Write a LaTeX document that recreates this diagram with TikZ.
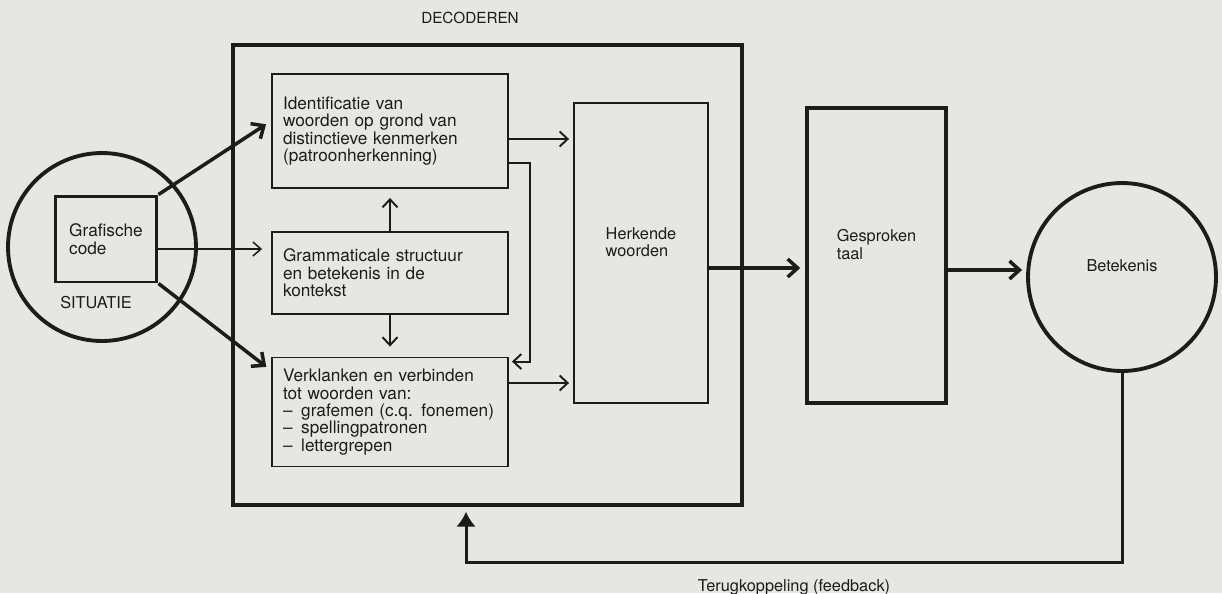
\documentclass[tikz,border=0pt]{standalone}
\usepackage{fontspec}
\setmainfont{TeX Gyre Heros}
\usepackage{tikz}
\usetikzlibrary{arrows.meta,positioning,shapes.geometric}
\definecolor{paper}{RGB}{230,230,228}
\definecolor{ink}{RGB}{28,28,28}
\newcommand{\leesBoxFont}{\fontsize{9.8}{9.9}\selectfont}
\newcommand{\leesLabelFont}{\fontsize{9.3}{9.9}\selectfont}
\tikzset{
  leesFrame/.style={draw=ink, line width=2pt, minimum width=10.18cm, minimum height=9.2cm},
  leesBox/.style={draw=ink, line width=1.1pt, align=left, font=\leesBoxFont, text=ink, text width=4.28cm, inner xsep=0.22cm},
  leesColumn/.style={draw=ink, align=left, font=\leesLabelFont, text=ink, text depth=0.45cm},
  leesRound/.style={draw=ink, circle, line width=2.2pt, font=\leesLabelFont, text=ink},
  leesLabel/.style={font=\leesLabelFont, text=ink},
  leesArrow/.style={draw=ink, line width=1.1pt, -{Straight Barb[length=0.16cm,width=0.3cm]}},
  leesThinArrow/.style={draw=ink, line width=0.85pt, -{Straight Barb[length=0.16cm,width=0.28cm]}},
  leesThickArrow/.style={draw=ink, line width=2pt, -{Straight Barb[length=0.2cm,width=0.36cm]}},
  leesFeedback/.style={draw=ink, line width=1.7pt, -{Latex[length=0.3cm,width=0.4cm]}}
}

\begin{document}
\begin{tikzpicture}[x=0.02cm, y=-0.02cm]
  \fill[paper] (0,0) rectangle (1222,593);
  \useasboundingbox (0,0) rectangle (1222,593);

  \node[leesFrame] (decoderen) at (487.5,275) {};
  \node[leesLabel, font=\fontsize{8.7}{9.9}\selectfont] (decodLabel) at (470,18) {DECODEREN};

  \node[leesRound, minimum size=3.76cm] (situatie) at (102,247) {};
  \node[draw=ink, line width=1.7pt, minimum width=2.04cm, minimum height=1.72cm, align=left, font=\leesBoxFont, text=ink] (grafisch) at (106,239) {Grafische\\code};
  \node[leesLabel] (situatieLabel) at (96,303) {SITUATIE};

  \node[leesBox, minimum height=2.28cm] (ident) at (390,131) {Identificatie van\\woorden op grond van\\distinctieve kenmerken\\(patroonherkenning)};
  \node[leesBox, minimum height=1.64cm] (gram) at (390,273) {Grammaticale structuur\\en betekenis in de\\kontekst};
  \node[leesBox, minimum height=2.18cm] (verk) at (390,412) {Verklanken en verbinden\\tot woorden van:\\–\enspace grafemen (c.q. fonemen)\\–\enspace spellingpatronen\\–\enspace lettergrepen};

  \node[leesColumn, line width=1.1pt, minimum width=2.68cm, minimum height=6cm] (herk) at (641,253) {Herkende\\woorden};
  \node[leesColumn, line width=2pt, minimum width=2.78cm, minimum height=5.9cm] (gesp) at (876.5,255.5) {Gesproken\\taal};
  \node[leesRound, minimum size=3.76cm, text depth=0.45cm] (betek) at (1122,277) {Betekenis};

  \coordinate (codeOut) at ([yshift=-0.2cm]grafisch.east);
  \coordinate (identOut) at ([yshift=-0.16cm]ident.east);
  \coordinate (verkOut) at ([yshift=0.58cm]verk.east);
  \coordinate (herkOut) at ([yshift=-0.3cm]herk.east);
  \coordinate (gespOut) at ([yshift=-0.29cm]gesp.east);
  \coordinate (fbCorner) at (466,562);

  \draw[leesThickArrow, shorten >=0.12cm] (grafisch.north east) -- ([yshift=0.2cm]ident.west);
  \draw[leesThinArrow, shorten >=0.18cm] (codeOut) -- (codeOut -| gram.west);
  \draw[leesThickArrow, shorten >=0.12cm] (grafisch.south east) -- ([yshift=-0.28cm]verk.north west);
  \draw[leesArrow, shorten >=0.18cm] (gram.north) -- (ident.south);
  \draw[leesArrow, shorten >=0.2cm] (gram.south) -- (verk.north);
  \draw[leesArrow, shorten >=0.06cm] ([yshift=-0.64cm]ident.east) -- ++(21,0) |- ([yshift=-0.1cm]verk.north east);
  \draw[leesArrow, shorten >=0.08cm] (identOut) -- (identOut -| herk.west);
  \draw[leesArrow, shorten >=0.08cm] (verkOut) -- (verkOut -| herk.west);
  \draw[leesThickArrow, shorten >=0.1cm] (herkOut) -- (herkOut -| gesp.west);
  \draw[leesThickArrow, shorten >=0.08cm] (gespOut) -- (gespOut -| betek.west);
  \draw[leesFeedback, shorten >=0.1cm] (betek.south) |- node[pos=0.75, below=0.2cm, leesLabel] (fbLabel) {Terugkoppeling (feedback)} (fbCorner) -- (fbCorner |- decoderen.south);
\end{tikzpicture}
\end{document}
